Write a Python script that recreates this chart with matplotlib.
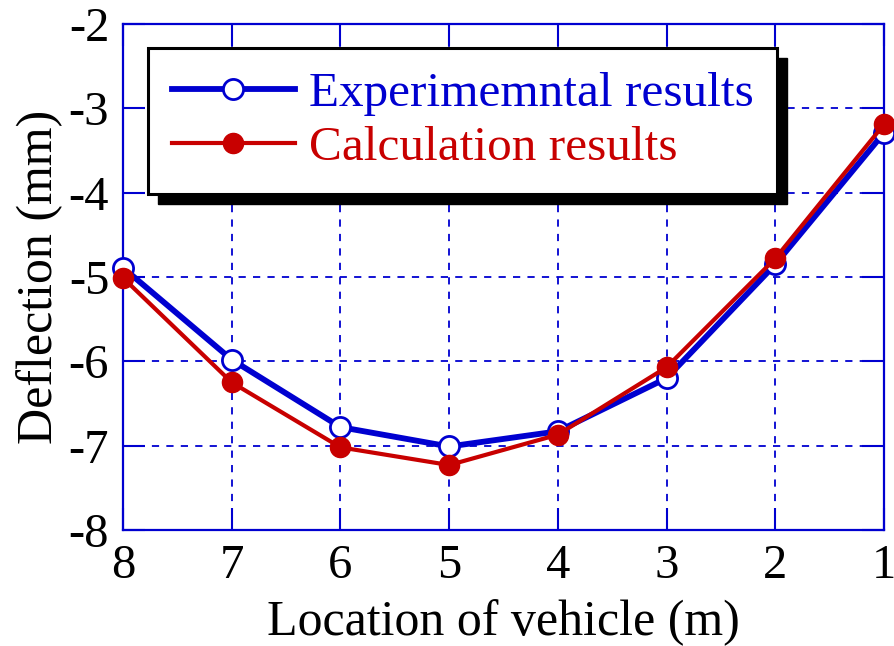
import matplotlib
matplotlib.use("Agg")
import matplotlib.pyplot as plt
from matplotlib.patches import Rectangle

plt.rcParams['font.family'] = ['Liberation Serif', 'DejaVu Serif']
plt.rcParams['axes.unicode_minus'] = False

locations = [8, 7, 6, 5, 4, 3, 2, 1]
experimental = [-4.89, -5.98, -6.78, -7.01, -6.83, -6.20, -4.85, -3.29]
calculation = [-5.01, -6.25, -7.02, -7.23, -6.87, -6.07, -4.78, -3.19]
x_ticks = [8, 7, 6, 5, 4, 3, 2, 1]
y_ticks = [-8, -7, -6, -5, -4, -3, -2]

blue = '#0000d0'
red = '#c80000'

fig = plt.figure(figsize=(8.94, 6.46), dpi=100)
ax = fig.add_axes([0.1376, 0.1796, 0.8512, 0.7832])

ax.plot(locations, experimental, '-o', color=blue, lw=4.2, ms=14.5,
        mfc='white', mec=blue, mew=2.0, clip_on=False, zorder=3,
        label='Experimemntal results')
ax.plot(locations, calculation, '-o', color=red, lw=3.0, ms=14.5,
        mfc=red, mec=red, mew=1, clip_on=False, zorder=4,
        label='Calculation results')

ax.set_xlim(8, 1)
ax.set_ylim(-8, -2)
ax.set_xticks(x_ticks)
ax.set_yticks(y_ticks)
ax.set_xticklabels([str(v) for v in x_ticks])
ax.set_yticklabels([str(v) for v in y_ticks])

ax.grid(True, color=blue, ls=(0, (4, 4)), lw=1.3)
ax.tick_params(direction='in', length=16, width=1.5, color=blue,
               top=True, right=True, labelsize=35, pad=10)
for s in ax.spines.values():
    s.set_color(blue)
    s.set_linewidth(1.6)

ax.set_xlabel('Location of vehicle (m)', fontsize=36, labelpad=8)
ax.set_ylabel('Deflection (mm)', fontsize=36, labelpad=4)

leg = ax.legend(loc='upper left', bbox_to_anchor=(0.033, 0.953),
                fontsize=35.5, frameon=True, fancybox=False, shadow=False,
                framealpha=1.0,
                handlelength=2.5, handletextpad=0.28, borderpad=0.48,
                labelspacing=0.2, borderaxespad=0)
leg.get_frame().set_edgecolor('black')
leg.get_frame().set_linewidth(2.2)
leg.get_frame().set_facecolor('white')
leg.set_zorder(10)
for t, c in zip(leg.get_texts(), [blue, red]):
    t.set_color(c)

fig.canvas.draw()
bb = leg.get_window_extent()
shadow = Rectangle((bb.x0 + 10, bb.y0 - 10), bb.width, bb.height,
                   transform=None, facecolor='black', edgecolor='black',
                   zorder=9, clip_on=False)
ax.add_artist(shadow)

fig.savefig('out.png', dpi=100)
